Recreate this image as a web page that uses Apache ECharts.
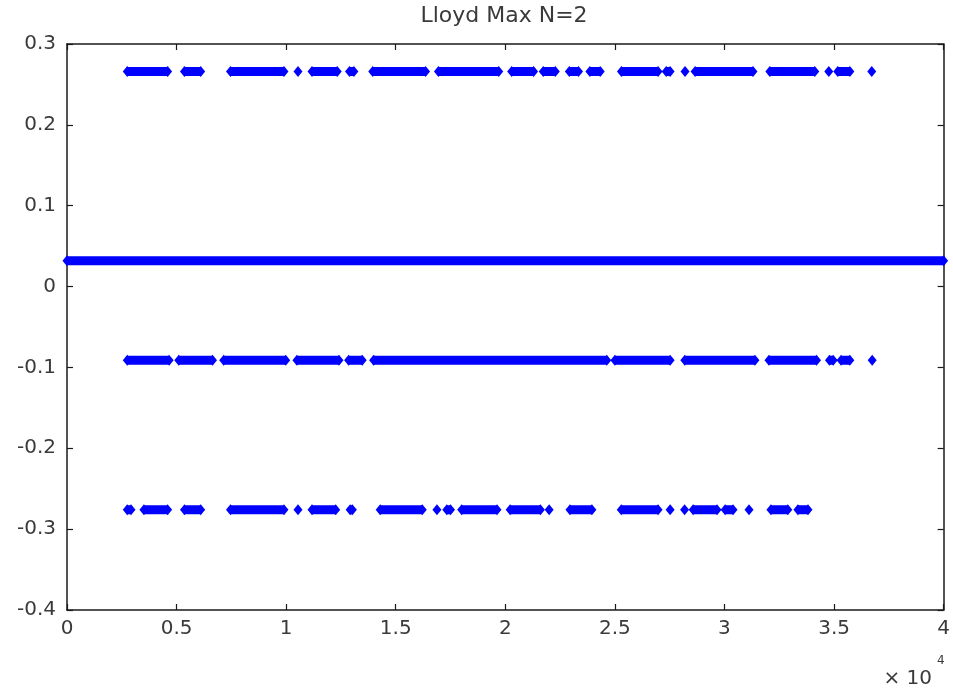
<!DOCTYPE html>
<html>
<head>
<meta charset="utf-8">
<title>Lloyd Max N=2</title>
<script src="https://cdn.jsdelivr.net/npm/echarts@6/dist/echarts.min.js"></script>
<style>
  html, body { margin: 0; padding: 0; background: #fff; }
  #chart { width: 953px; height: 695px; }
</style>
</head>
<body>
<div id="chart"></div>
<script>
// Quantizer output levels (Lloyd-Max, N = 2)
const levels = [0.266, 0.032, -0.091, -0.276];

// Sample-index runs [first, last] where the signal is quantized to each level
const runsLevel1 = [
  [2750, 4590], [5360, 6100], [7460, 9900], [10540, 10540], [11180, 12330],
  [12890, 13090], [13950, 16360], [16950, 19700], [20290, 21290], [21730, 22280],
  [22920, 23340], [23860, 24330], [25300, 26970], [27340, 27520], [28200, 28200],
  [28660, 31300], [32070, 34120], [34760, 34760], [35170, 35720], [36720, 36720]
];
const runsLevel2 = [
  [0, 40000]
];
const runsLevel3 = [
  [2750, 4660], [5100, 6640], [7150, 9980], [10490, 12410], [12850, 13470],
  [13990, 24630], [25000, 27520], [28190, 31390], [32030, 34200], [34790, 34960],
  [35320, 35720], [36740, 36740]
];
const runsLevel4 = [
  [2750, 2920], [3510, 4590], [5360, 6100], [7460, 9900], [10540, 10540],
  [11180, 12260], [12920, 13020], [14290, 16210], [16880, 16880], [17330, 17500],
  [18010, 19620], [20220, 21600], [22000, 22000], [22950, 23950], [25290, 26970],
  [27520, 27520], [28180, 28180], [28570, 29660], [30030, 30390], [31120, 31120],
  [32120, 32890], [33350, 33810]
];

// Axis ticks
const xTicks = [0, 5000, 10000, 15000, 20000, 25000, 30000, 35000, 40000];
const yTicks = [-0.4, -0.3, -0.2, -0.1, 0, 0.1, 0.2, 0.3];

const BLUE = '#0000ff';

function runsToData(runs, level) {
  const out = [];
  runs.forEach(function (r, i) {
    if (i > 0) out.push([null, null]);
    out.push([r[0], level]);
    if (r[1] !== r[0]) out.push([r[1], level]);
  });
  return out;
}

function rowSeries(runs, level, width) {
  return {
    type: 'line',
    data: runsToData(runs, level),
    xAxisIndex: 0,
    yAxisIndex: 0,
    connectNulls: false,
    clip: false,
    showSymbol: true,
    showAllSymbol: true,
    symbol: 'diamond',
    symbolSize: [9, 11],
    itemStyle: { color: BLUE },
    lineStyle: { color: BLUE, width: width },
    animation: false,
    silent: true
  };
}

const chart = echarts.init(document.getElementById('chart'), null, { renderer: 'canvas' });

const axisLine = { show: true, onZero: false, lineStyle: { color: '#1a1a1a', width: 1.5 } };
const axisTick = { show: true, inside: true, length: 6, lineStyle: { color: '#1a1a1a', width: 1.2 } };
const labelFont = { color: '#3a3a3a', fontFamily: 'DejaVu Sans', fontSize: 20 };

chart.setOption({
  backgroundColor: '#ffffff',
  animation: false,
  grid: { left: 67, right: 8, top: 44, bottom: 85, containLabel: false },
  xAxis: [
    {
      type: 'value', position: 'bottom',
      min: xTicks[0], max: xTicks[xTicks.length - 1], interval: xTicks[1] - xTicks[0],
      axisLine: axisLine, axisTick: axisTick, splitLine: { show: false },
      axisLabel: Object.assign({
        margin: 9,
        formatter: function (v) { return String(+(v / 10000).toFixed(1)); }
      }, labelFont)
    },
    {
      type: 'value', position: 'top',
      min: xTicks[0], max: xTicks[xTicks.length - 1], interval: xTicks[1] - xTicks[0],
      axisLine: axisLine, axisTick: axisTick, splitLine: { show: false },
      axisLabel: { show: false }
    }
  ],
  yAxis: [
    {
      type: 'value', position: 'left',
      min: yTicks[0], max: yTicks[yTicks.length - 1], interval: 0.1,
      axisLine: axisLine, axisTick: axisTick, splitLine: { show: false },
      axisLabel: Object.assign({
        margin: 11,
        formatter: function (v) {
          if (Math.abs(v) < 1e-9) return '0';
          return String(+v.toFixed(1));
        }
      }, labelFont)
    },
    {
      type: 'value', position: 'right',
      min: yTicks[0], max: yTicks[yTicks.length - 1], interval: 0.1,
      axisLine: axisLine, axisTick: axisTick, splitLine: { show: false },
      axisLabel: { show: false }
    }
  ],
  series: [
    rowSeries(runsLevel1, levels[0], 9),
    rowSeries(runsLevel2, levels[1], 9),
    rowSeries(runsLevel3, levels[2], 9),
    rowSeries(runsLevel4, levels[3], 9)
  ],
  graphic: [
    {
      type: 'text', x: 504, y: 5,
      style: { text: 'Lloyd Max N=2', fill: '#3a3a3a', font: '22px "DejaVu Sans"', textAlign: 'center', textVerticalAlign: 'top' }
    },
    {
      type: 'text', x: 932, y: 669,
      style: { text: '\u00d7 10', fill: '#3a3a3a', font: '20px "DejaVu Sans"', textAlign: 'right', textVerticalAlign: 'top' }
    },
    {
      type: 'text', x: 937, y: 655,
      style: { text: '4', fill: '#3a3a3a', font: '12px "DejaVu Sans"', textAlign: 'left', textVerticalAlign: 'top' }
    }
  ]
});
</script>
</body>
</html>
